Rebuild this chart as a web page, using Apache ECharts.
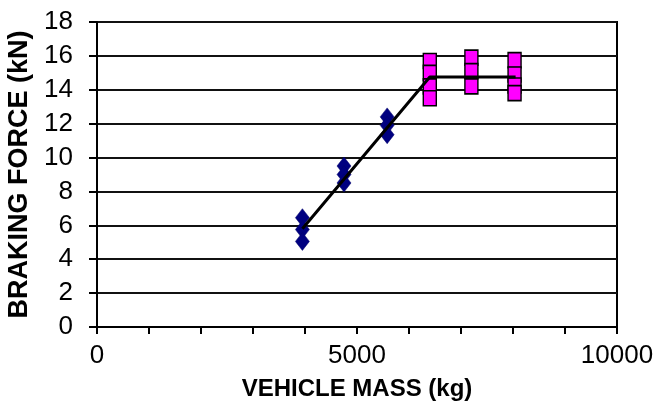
<!DOCTYPE html>
<html>
<head>
<meta charset="utf-8">
<script src="https://cdn.jsdelivr.net/npm/echarts@6/dist/echarts.min.js"></script>
<style>
html,body{margin:0;padding:0;background:#fff;}
#chart{width:657px;height:412px;}
</style>
</head>
<body>
<div id="chart"></div>
<script>
// Data
var massBlue  = [3950, 3950, 3950, 4750, 4750, 4750, 5580, 5580, 5580];
var forceBlue = [6.45, 5.75, 5.05, 9.5, 9.0, 8.5, 12.4, 11.9, 11.35];
var massPink  = [6400, 6400, 6400, 6400, 7200, 7200, 7200, 8030, 8030, 8030, 8030];
var forcePink = [15.7, 15.0, 14.2, 13.5, 15.9, 15.1, 14.2, 15.75, 14.9, 14.25, 13.8];
var fitMass   = [3950, 6400, 8050];
var fitForce  = [5.8, 14.75, 14.75];
var xTickLabels = {0: '0', 5000: '5000', 10000: '10000'};

function pairs(xs, ys){ return xs.map(function(x,i){ return [x, ys[i]]; }); }

var FONT = '"Liberation Sans", Arial, sans-serif';
var chart = echarts.init(document.getElementById('chart'), null, {renderer:'canvas'});
chart.setOption({
  animation: false,
  backgroundColor: '#fff',
  grid: {left: 97, right: 40, top: 22, bottom: 85, show: true, borderColor: '#000', borderWidth: 2,
         containLabel: false, outerBoundsMode: 'none'},
  xAxis: {
    type: 'value', min: 0, max: 10000, interval: 1000,
    name: 'VEHICLE MASS (kg)', nameLocation: 'middle', nameGap: 50,
    nameTextStyle: {fontFamily: FONT, fontWeight: 'bold', fontSize: 24, color: '#000'},
    axisLine: {show: true, lineStyle: {color: '#000', width: 2}},
    axisTick: {show: true, inside: false, length: 7, lineStyle: {color: '#000', width: 2}},
    axisLabel: {show: true, margin: 16, fontFamily: FONT, fontSize: 26, color: '#000',
      formatter: function(v){ return xTickLabels[v] !== undefined ? xTickLabels[v] : ''; }},
    splitLine: {show: false}
  },
  yAxis: {
    type: 'value', min: 0, max: 18, interval: 2,
    name: 'BRAKING FORCE (kN)', nameLocation: 'middle', nameGap: 64, nameRotate: 90,
    nameTextStyle: {fontFamily: FONT, fontWeight: 'bold', fontSize: 27, color: '#000'},
    axisLine: {show: true, lineStyle: {color: '#000', width: 2}},
    axisTick: {show: true, inside: false, length: 8, lineStyle: {color: '#000', width: 2}},
    axisLabel: {show: true, margin: 24, fontFamily: FONT, fontSize: 26, color: '#000'},
    splitLine: {show: true, lineStyle: {color: '#111', width: 2}}
  },
  series: [
    {
      type: 'scatter', data: pairs(massBlue, forceBlue),
      symbol: 'diamond', symbolSize: [14, 18],
      itemStyle: {color: '#000080', borderColor: '#00006a', borderWidth: 0.5, opacity: 1},
      z: 2
    },
    {
      type: 'scatter', data: pairs(massPink, forcePink),
      symbol: 'rect', symbolSize: [13, 15],
      itemStyle: {color: '#ff00ff', borderColor: '#000', borderWidth: 1.5, opacity: 1},
      z: 2
    },
    {
      type: 'line', data: pairs(fitMass, fitForce),
      showSymbol: false, symbol: 'none',
      lineStyle: {color: '#000', width: 3},
      z: 3
    }
  ]
});
</script>
</body>
</html>
